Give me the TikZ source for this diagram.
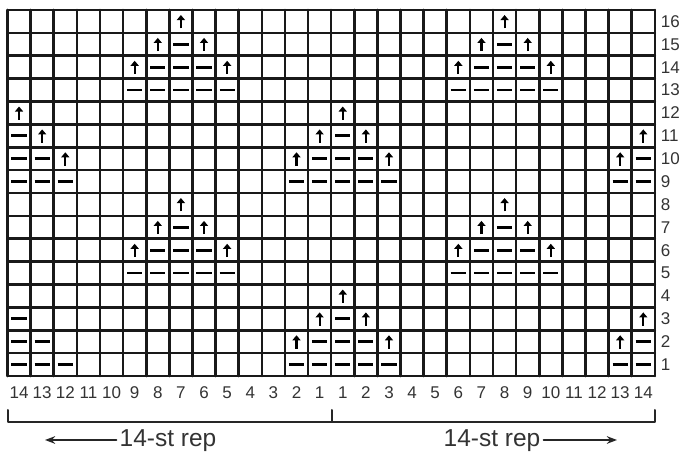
\documentclass[tikz,border=0pt]{standalone}
\usepackage{fontspec}
\setmainfont{Liberation Sans}
\usetikzlibrary{arrows.meta}

\begin{document}
\begin{tikzpicture}[x=1pt, y=1pt, line cap=round, line join=round, >=Stealth]
	\tikzset{cell line/.style={line width=2.6pt, draw=black!90},
		up style/.style={line width=2.1pt, line cap=butt, -{Triangle[width=8pt,length=5pt]}},
		purl style/.style={line width=2.8pt, line cap=butt},
		num style/.style={font=\fontsize{17}{18}\selectfont, text=black!80, inner sep=0pt},
		rep style/.style={font=\fontsize{24.5}{25}\selectfont, text=black!80, inner sep=0pt}}
	\useasboundingbox (0,0) rectangle (683,452);
	\begin{scope}[shift={(7.5,76)}, x=23.12pt, y=22.875pt]
		% grid
		\foreach \i in {0,...,28} \draw[cell line] (\i,0) -- (\i,16);
		\foreach \j in {0,...,16} \draw[cell line] (0,\j) -- (28,\j);
		% stitches
		\foreach \c/\r in {8/16,22/16, 7/15,9/15,21/15,23/15, 6/14,10/14,20/14,24/14,
			1/12,15/12, 2/11,14/11,16/11,28/11, 3/10,13/10,17/10,27/10,
			8/8,22/8, 7/7,9/7,21/7,23/7, 6/6,10/6,20/6,24/6,
			15/4, 14/3,16/3,28/3, 13/2,17/2,27/2}
			\draw[up style] (\c-0.5,\r-0.8) -- (\c-0.5,\r-0.22);
		\foreach \c/\r in {8/15,22/15, 7/14,8/14,9/14,21/14,22/14,23/14,
			6/13,7/13,8/13,9/13,10/13,20/13,21/13,22/13,23/13,24/13,
			1/11,15/11, 1/10,2/10,14/10,15/10,16/10,28/10,
			1/9,2/9,3/9,13/9,14/9,15/9,16/9,17/9,27/9,28/9,
			8/7,22/7, 7/6,8/6,9/6,21/6,22/6,23/6,
			6/5,7/5,8/5,9/5,10/5,20/5,21/5,22/5,23/5,24/5,
			1/3,15/3, 1/2,2/2,14/2,15/2,16/2,28/2,
			1/1,2/1,3/1,13/1,14/1,15/1,16/1,17/1,27/1,28/1}
			\draw[purl style] (\c-0.83,\r-0.5) -- (\c-0.17,\r-0.5);
		% numbers
		\foreach \r in {1,...,16}
			\node[num style, anchor=west] (row\r) at (28.25,\r-0.5) {\r};
		\foreach \c in {1,...,14} {
			\pgfmathtruncatemacro{\lab}{15-\c}
			\node[num style] (colL\c) at (\c-0.5,-0.72) {\lab};
			\node[num style] (colR\c) at (\c+13.5,-0.72) {\c};
		}
	\end{scope}
	% repeat bracket
	\draw[line width=2pt, draw=black!85] (8,42) -- (8,30) -- (655,30) -- (655,42)
		(331.5,30) -- (331.5,42);
	\node[rep style, anchor=base] (repL) at (168,5) {14-st rep};
	\node[rep style, anchor=base] (repR) at (492,5) {14-st rep};
	\coordinate (arrL) at (45,12);
	\coordinate (arrR) at (617,12);
	\draw[->, line width=1.6pt, black!85] ([xshift=-3pt]repL.west |- arrL) -- (arrL);
	\draw[->, line width=1.6pt, black!85] ([xshift=3pt]repR.east |- arrR) -- (arrR);
\end{tikzpicture}
\end{document}
